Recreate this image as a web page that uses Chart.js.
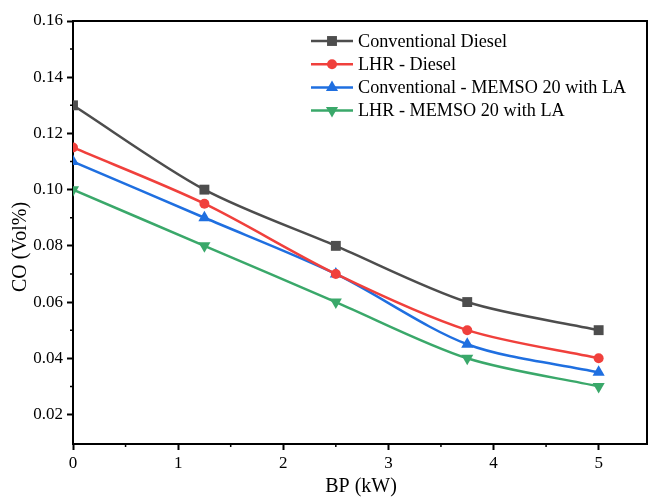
<!DOCTYPE html>
<html>
<head>
<meta charset="utf-8">
<script src="https://cdn.jsdelivr.net/npm/chart.js@4"></script>
<style>
  html, body { margin: 0; padding: 0; background: #fff; }
  #wrap { width: 648px; height: 497px; }
</style>
</head>
<body>
<div id="wrap"><canvas id="chartCO"></canvas></div>
<script>
// data ------------------------------------------------------------------
const bpValues = [0, 1.25, 2.5, 3.75, 5];
const seriesNames = [
  'Conventional Diesel',
  'LHR - Diesel',
  'Conventional - MEMSO 20 with LA',
  'LHR - MEMSO 20 with LA'
];
const convDiesel = [0.13, 0.10, 0.08, 0.06, 0.05];
const lhrDiesel = [0.115, 0.095, 0.07, 0.05, 0.04];
const convMemso = [0.11, 0.09, 0.07, 0.045, 0.035];
const lhrMemso = [0.10, 0.08, 0.06, 0.04, 0.03];
const xTicks = [0, 1, 2, 3, 4, 5];
const yTicks = [0.02, 0.04, 0.06, 0.08, 0.10, 0.12, 0.14, 0.16];

const FONT = "'Liberation Serif', 'Times New Roman', serif";

function pts(vals) {
  return bpValues.map((x, i) => ({ x: x, y: vals[i] }));
}

function makeSet(label, vals, color, style, radius, rotation) {
  return {
    label: label,
    data: pts(vals),
    borderColor: color,
    backgroundColor: color,
    borderWidth: 2.5,
    pointStyle: style,
    pointRadius: radius,
    pointRotation: rotation || 0,
    pointBorderWidth: 0,
    pointBackgroundColor: color,
    tension: 0.3
  };
}

// frame, minor ticks, titles and legend ---------------------------------
const extras = {
  id: 'extras',
  afterDraw(chart) {
    const ctx = chart.ctx;
    const a = chart.chartArea;
    const xs = chart.scales.x;
    const ys = chart.scales.y;
    ctx.save();
    ctx.strokeStyle = '#000';
    ctx.lineWidth = 2;
    ctx.beginPath();
    ctx.moveTo(a.left, a.top);
    ctx.lineTo(a.right, a.top);
    ctx.lineTo(a.right, a.bottom);
    ctx.stroke();

    // minor ticks
    ctx.lineWidth = 1.5;
    ctx.beginPath();
    for (let i = 0; i < xTicks.length; i++) {
      const px = xs.getPixelForValue(xTicks[i] + 0.5);
      if (px < a.right - 2) {
        ctx.moveTo(px, a.bottom);
        ctx.lineTo(px, a.bottom + 3);
      }
    }
    for (let i = 0; i < yTicks.length; i++) {
      const py = ys.getPixelForValue(yTicks[i] - 0.01);
      if (py < a.bottom - 2) {
        ctx.moveTo(a.left, py);
        ctx.lineTo(a.left - 3, py);
      }
    }
    ctx.stroke();

    // axis titles
    ctx.fillStyle = '#000';
    ctx.font = '20px ' + FONT;
    ctx.textAlign = 'center';
    ctx.textBaseline = 'middle';
    ctx.fillText('BP (kW)', 361, 487);
    ctx.translate(21, 247);
    ctx.rotate(-Math.PI / 2);
    ctx.fillText('CO (Vol%)', 0, 0);
    ctx.restore();

    // legend
    ctx.save();
    ctx.font = '18.2px ' + FONT;
    ctx.textBaseline = 'middle';
    ctx.textAlign = 'left';
    chart.data.datasets.forEach((ds, i) => {
      const cy = 41 + i * 23.2;
      ctx.strokeStyle = ds.borderColor;
      ctx.lineWidth = 2.5;
      ctx.beginPath();
      ctx.moveTo(311, cy);
      ctx.lineTo(353, cy);
      ctx.stroke();
      ctx.fillStyle = ds.borderColor;
      Chart.helpers.drawPoint(ctx, {
        pointStyle: ds.pointStyle,
        rotation: ds.pointRotation,
        radius: ds.pointRadius,
        borderWidth: 0
      }, 332, cy);
      ctx.fillStyle = '#000';
      ctx.fillText(ds.label, 358, cy + 1);
    });
    ctx.restore();
  }
};

const dataCO = {
  datasets: [
    makeSet(seriesNames[0], convDiesel, '#4d4d4d', 'rect', 7),
    makeSet(seriesNames[1], lhrDiesel, '#f0403c', 'circle', 5),
    makeSet(seriesNames[2], convMemso, '#1f6fe0', 'triangle', 7),
    makeSet(seriesNames[3], lhrMemso, '#3aa86a', 'triangle', 7, 180)
  ]
};

const configCO = {
  type: 'line',
  data: dataCO,
  options: {
    responsive: true,
    maintainAspectRatio: false,
    animation: false,
    layout: { autoPadding: false, padding: { top: 21, right: 1, left: 0, bottom: 0 } },
    plugins: { legend: { display: false }, tooltip: { enabled: false } },
    scales: {
      x: {
        type: 'linear',
        min: 0,
        max: 5.46,
        afterFit(scale) { scale.height = 53; },
        afterBuildTicks(scale) { scale.ticks = xTicks.map(v => ({ value: v })); },
        border: { color: '#000', width: 2 },
        grid: { drawOnChartArea: false, tickLength: 6, tickWidth: 2, tickColor: '#000' },
        ticks: {
          color: '#000',
          padding: 3,
          font: { family: FONT, size: 17 },
          callback: v => String(v)
        }
      },
      y: {
        min: 0.0095,
        max: 0.16,
        afterFit(scale) { scale.width = 73; },
        afterBuildTicks(scale) { scale.ticks = yTicks.map(v => ({ value: v })); },
        border: { color: '#000', width: 2 },
        grid: { drawOnChartArea: false, tickLength: 6, tickWidth: 2, tickColor: '#000' },
        ticks: {
          color: '#000',
          padding: 4,
          font: { family: FONT, size: 17 },
          callback: v => v.toFixed(2)
        }
      }
    }
  },
  plugins: [extras]
};

const myChartCO = new Chart(document.getElementById('chartCO'), configCO);
</script>
</body>
</html>
